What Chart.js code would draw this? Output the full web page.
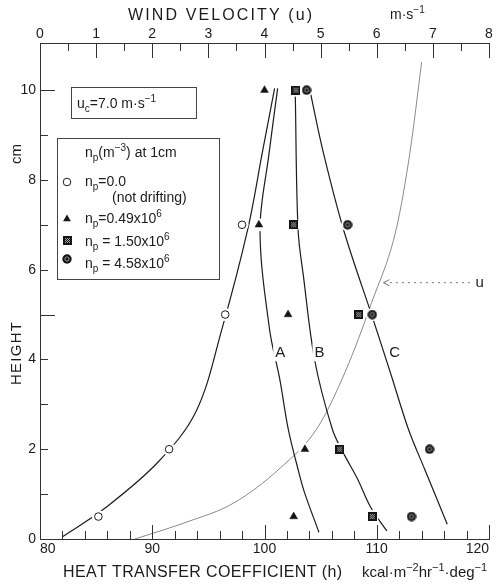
<!DOCTYPE html>
<html>
<head>
<meta charset="utf-8">
<script src="https://cdn.jsdelivr.net/npm/chart.js@4/dist/chart.umd.min.js"></script>
<style>
  html, body { margin: 0; padding: 0; background: #fff; }
  canvas { display: block; }
</style>
</head>
<body>
<canvas id="chart" width="500" height="584"></canvas>
<script>
// Measurement heights (cm)
const heights = [0.5, 2, 5, 7, 10];

// Heat transfer coefficient h (kcal m^-2 hr^-1 deg^-1) at each height
const hNotDrifting = [85.2, 91.5, 96.5, 98.0, null];
const hNp049 = [102.6, 103.6, 102.1, 99.5, 100.0];
const hNp150 = [109.6, 106.7, 108.4, 102.6, 102.8];
const hNp458 = [113.1, 114.7, 109.6, 107.4, 103.75];

// Fitted profiles, [h, height]
const fitNotDrifting = [[82.0, 0.05], [85.8, 0.69], [90.5, 1.71], [93.9, 2.84], [96.2, 4.67], [98.5, 6.89], [99.8, 8.6], [100.9, 10.04]];
const fitA = [[104.85, 0.15], [103.56, 1.04], [102.98, 1.56], [102.12, 2.44], [101.36, 3.56], [100.45, 4.67], [99.6, 6.89], [100.4, 8.58], [101.17, 10.04]];
const fitB = [[110.9, 0.18], [109.47, 0.70], [108.3, 1.33], [107.0, 1.93], [106.05, 2.44], [104.49, 3.96], [103.47, 5.85], [102.99, 6.89], [102.74, 9.93]];
const fitC = [[116.28, 0.33], [114.26, 1.56], [112.83, 2.44], [111.26, 3.67], [109.68, 4.89], [107.09, 6.85], [105.26, 8.59], [104.04, 10.0]];

// Wind velocity profile, [u (m/s), height]
const windProfile = [[1.69, 0.0], [2.62, 0.38], [3.45, 0.8], [4.28, 1.58], [4.94, 2.47], [5.44, 3.73], [5.91, 5.27], [6.35, 6.92], [6.59, 8.6], [6.8, 10.62]];

// Axis tick labels
const hTicks = [80, 90, 100, 110, 120];
const uTicks = [0, 1, 2, 3, 4, 5, 6, 7, 8];
const zTicks = [0, 2, 4, 6, 8, 10];

// Curve labels [text, h, height]
const curveLabels = [['A', 101.4, 4.16], ['B', 104.9, 4.16], ['C', 111.6, 4.18]];

const FONT = '"Liberation Sans", Arial, sans-serif';
const INK = '#1c1c1c';

// ---- marker images ----
function squareMarker() {
  const c = document.createElement('canvas');
  c.width = 9; c.height = 9;
  const g = c.getContext('2d');
  g.fillStyle = '#141414';
  g.fillRect(0, 0, 9, 9);
  g.fillStyle = '#a8a8a8';
  for (let i = 2; i < 7; i++) for (let j = 2; j < 7; j++) if ((i + j) % 2 === 0) g.fillRect(i, j, 1, 1);
  return c;
}
function dotCircleMarker() {
  const c = document.createElement('canvas');
  c.width = 10; c.height = 10;
  const g = c.getContext('2d');
  g.fillStyle = '#141414';
  g.beginPath(); g.arc(5, 5, 4.7, 0, Math.PI * 2); g.fill();
  g.strokeStyle = '#9a9a9a'; g.lineWidth = 1;
  g.beginPath(); g.arc(5, 5, 2.1, 0, Math.PI * 2); g.stroke();
  return c;
}
const SQ = squareMarker();
const DOT = dotCircleMarker();

function pts(values) {
  return heights.map((z, i) => ({ x: values[i], y: z })).filter(p => p.x !== null);
}
function pairs(list) {
  return list.map(([x, y]) => ({ x, y }));
}

function curve(data, opts) {
  return Object.assign({
    type: 'scatter', data: pairs(data), showLine: true, pointRadius: 0,
    borderColor: INK, borderWidth: 1.2, tension: 0.35, order: 3
  }, opts || {});
}
function markers(values, style) {
  return Object.assign({
    type: 'scatter', data: pts(values), showLine: false, order: 1,
    pointHoverRadius: 0
  }, style);
}

const allMarkerPts = [hNotDrifting, hNp049, hNp150, hNp458].flatMap(pts);

// ---- rich text with sub/superscripts ----
function richText(ctx, x, y, parts, size, align) {
  const small = Math.round(size * 0.72);
  let w = 0;
  const items = parts.map(([t, m]) => {
    const s = m === 'n' ? size : small;
    ctx.font = s + 'px ' + FONT;
    const tw = ctx.measureText(t).width;
    w += tw;
    return { t, m, s, tw };
  });
  let cx = align === 'center' ? x - w / 2 : (align === 'right' ? x - w : x);
  ctx.textAlign = 'left';
  ctx.textBaseline = 'alphabetic';
  for (const it of items) {
    ctx.font = it.s + 'px ' + FONT;
    const dy = it.m === 'sub' ? size * 0.3 : (it.m === 'sup' ? -size * 0.42 : 0);
    ctx.fillText(it.t, cx, y + dy);
    cx += it.tw;
  }
}

// Characters spread evenly between x0 and x1
function spacedText(ctx, text, x0, x1, y, size) {
  ctx.font = size + 'px ' + FONT;
  ctx.textAlign = 'left';
  ctx.textBaseline = 'alphabetic';
  const chars = [...text];
  const widths = chars.map(ch => ctx.measureText(ch).width);
  const total = widths.reduce((a, b) => a + b, 0);
  const gap = (x1 - x0 - total) / (chars.length - 1);
  let cx = x0;
  chars.forEach((ch, i) => { ctx.fillText(ch, cx, y); cx += widths[i] + gap; });
}

// ---- inward tick marks ----
const tickMarks = {
  id: 'tickMarks',
  afterDatasetsDraw(chart) {
    const { ctx, chartArea: a, scales } = chart;
    ctx.save();
    ctx.strokeStyle = '#333';
    ctx.lineWidth = 1;
    ctx.beginPath();
    for (let v = 80; v <= 120; v += 2) {
      const p = Math.round(scales.x.getPixelForValue(v)) + 0.5;
      const L = v % 10 === 0 ? 14 : 8;
      ctx.moveTo(p, a.bottom); ctx.lineTo(p, a.bottom - L);
    }
    for (let v = 0; v <= 8; v += 0.5) {
      const p = Math.round(scales.x2.getPixelForValue(v)) + 0.5;
      const L = Number.isInteger(v) ? 15 : 8;
      ctx.moveTo(p, a.top); ctx.lineTo(p, a.top + L);
    }
    for (let v = 1; v <= 10; v++) {
      const p = Math.round(scales.y.getPixelForValue(v)) + 0.5;
      const L = v % 5 === 0 ? 15 : 8;
      ctx.moveTo(a.left, p); ctx.lineTo(a.left + L, p);
    }
    ctx.stroke();
    ctx.restore();
  }
};

// ---- titles, legend boxes and annotations ----
const annotations = {
  id: 'annotations',
  afterDraw(chart) {
    const { ctx, scales } = chart;
    ctx.save();
    ctx.fillStyle = INK;

    // axis titles
    spacedText(ctx, 'WIND VELOCITY (u)', 128, 312, 20, 16);
    richText(ctx, 390, 19, [['m·s', 'n'], ['−1', 'sup']], 14, 'left');
    spacedText(ctx, 'HEAT TRANSFER COEFFICIENT (h)', 63, 342, 577, 16);
    richText(ctx, 362, 577, [['kcal·m', 'n'], ['−2', 'sup'], ['hr', 'n'], ['−1', 'sup'], ['·deg', 'n'], ['−1', 'sup']], 15, 'left');

    ctx.save();
    ctx.translate(21, 385);
    ctx.rotate(-Math.PI / 2);
    spacedText(ctx, 'HEIGHT', 0, 63, 0, 15);
    ctx.restore();
    ctx.save();
    ctx.translate(21, 164);
    ctx.rotate(-Math.PI / 2);
    ctx.font = '15px ' + FONT;
    ctx.fillText('cm', 0, 0);
    ctx.restore();

    // curve labels with a clear background
    ctx.font = '15px ' + FONT;
    ctx.textAlign = 'center';
    ctx.textBaseline = 'middle';
    for (const [t, h, z] of curveLabels) {
      const px = scales.x.getPixelForValue(h), py = scales.y.getPixelForValue(z);
      ctx.fillStyle = '#fff';
      ctx.fillRect(px - 7, py - 9, 14, 18);
      ctx.fillStyle = INK;
      ctx.fillText(t, px, py + 1);
    }

    // wind profile pointer
    const ay = scales.y.getPixelForValue(5.71);
    const tip = scales.x2.getPixelForValue(6.1), tail = scales.x2.getPixelForValue(7.66);
    ctx.strokeStyle = '#777';
    ctx.lineWidth = 1;
    ctx.setLineDash([2, 4]);
    ctx.beginPath(); ctx.moveTo(tail, ay); ctx.lineTo(tip + 3, ay); ctx.stroke();
    ctx.setLineDash([]);
    ctx.beginPath(); ctx.moveTo(tip + 7, ay - 3); ctx.lineTo(tip + 1, ay); ctx.lineTo(tip + 7, ay + 3); ctx.stroke();
    ctx.fillStyle = INK;
    ctx.font = '15px ' + FONT;
    ctx.textAlign = 'left';
    ctx.textBaseline = 'alphabetic';
    ctx.fillText('u', scales.x2.getPixelForValue(7.76), ay + 4);

    // reference velocity box
    ctx.strokeStyle = '#444';
    ctx.lineWidth = 1;
    ctx.strokeRect(71.5, 87.5, 125, 31);
    ctx.fillStyle = INK;
    richText(ctx, 77, 108, [['u', 'n'], ['c', 'sub'], ['=7.0 m·s', 'n'], ['−1', 'sup']], 14, 'left');

    // concentration legend
    ctx.strokeRect(57.5, 138.5, 162, 141);
    richText(ctx, 85, 157, [['n', 'n'], ['p', 'sub'], ['(m', 'n'], ['−3', 'sup'], [') at 1cm', 'n']], 14, 'left');
    const drawPoint = Chart.helpers.drawPoint;
    ctx.fillStyle = '#fff'; ctx.strokeStyle = INK; ctx.lineWidth = 1;
    drawPoint(ctx, { pointStyle: 'circle', radius: 3.8, rotation: 0, borderWidth: 1 }, 67, 182);
    ctx.fillStyle = '#141414';
    drawPoint(ctx, { pointStyle: 'triangle', radius: 4.5, rotation: 0, borderWidth: 0 }, 67, 219);
    ctx.drawImage(SQ, 63, 236);
    ctx.drawImage(DOT, 62, 254);
    ctx.fillStyle = INK;
    richText(ctx, 85, 186, [['n', 'n'], ['p', 'sub'], ['=0.0', 'n']], 14, 'left');
    richText(ctx, 112, 202, [['(not drifting)', 'n']], 14, 'left');
    richText(ctx, 85, 223, [['n', 'n'], ['p', 'sub'], ['=0.49x10', 'n'], ['6', 'sup']], 14, 'left');
    richText(ctx, 85, 246, [['n', 'n'], ['p', 'sub'], [' = 1.50x10', 'n'], ['6', 'sup']], 14, 'left');
    richText(ctx, 85, 268, [['n', 'n'], ['p', 'sub'], [' = 4.58x10', 'n'], ['6', 'sup']], 14, 'left');

    ctx.restore();
  }
};

const tickFont = { family: FONT, size: 14 };

new Chart(document.getElementById('chart'), {
  type: 'scatter',
  data: {
    datasets: [
      // fitted profiles
      curve(fitNotDrifting),
      curve(fitA),
      curve(fitB),
      curve(fitC),
      curve(windProfile, { xAxisID: 'x2', borderColor: '#8a8a8a', borderWidth: 1, cubicInterpolationMode: 'monotone' }),
      // clear halo under the observation markers
      { type: 'scatter', data: allMarkerPts, pointStyle: 'circle', pointRadius: 6.5,
        pointBackgroundColor: '#fff', pointBorderWidth: 0, order: 2, pointHoverRadius: 0 },
      // observations
      markers(hNotDrifting, { pointStyle: 'circle', pointRadius: 3.8, pointBackgroundColor: '#fff', pointBorderColor: INK, pointBorderWidth: 1 }),
      markers(hNp049, { pointStyle: 'triangle', pointRadius: 4.5, pointBackgroundColor: '#141414', pointBorderColor: '#141414', pointBorderWidth: 0.5 }),
      markers(hNp150, { pointStyle: SQ }),
      markers(hNp458, { pointStyle: DOT })
    ]
  },
  options: {
    responsive: false,
    animation: false,
    devicePixelRatio: 1,
    layout: { padding: { left: 0, right: 11, top: 0, bottom: 0 } },
    plugins: { legend: { display: false }, tooltip: { enabled: false } },
    events: [],
    scales: {
      x: {
        type: 'linear', position: 'bottom', min: 80, max: 120,
        afterBuildTicks: s => { s.ticks = hTicks.map(v => ({ value: v })); },
        afterFit: s => { s.height = 45; },
        grid: { display: false, drawTicks: false },
        border: { display: true, color: '#333', width: 1 },
        ticks: { align: 'inner', padding: 2, font: tickFont, color: INK, maxRotation: 0 }
      },
      x2: {
        type: 'linear', position: 'top', min: 0, max: 8,
        afterBuildTicks: s => { s.ticks = uTicks.map(v => ({ value: v })); },
        afterFit: s => { s.height = 43; },
        grid: { display: false, drawTicks: false },
        border: { display: true, color: '#333', width: 1 },
        ticks: { padding: 0, font: tickFont, color: INK, maxRotation: 0 }
      },
      y: {
        type: 'linear', position: 'left', min: 0, max: 11.05,
        afterBuildTicks: s => { s.ticks = zTicks.map(v => ({ value: v })); },
        afterFit: s => { s.width = 40; },
        grid: { display: false, drawTicks: false },
        border: { display: true, color: '#333', width: 1 },
        ticks: { padding: 4, font: tickFont, color: INK }
      }
    }
  },
  plugins: [tickMarks, annotations]
});
</script>
</body>
</html>
